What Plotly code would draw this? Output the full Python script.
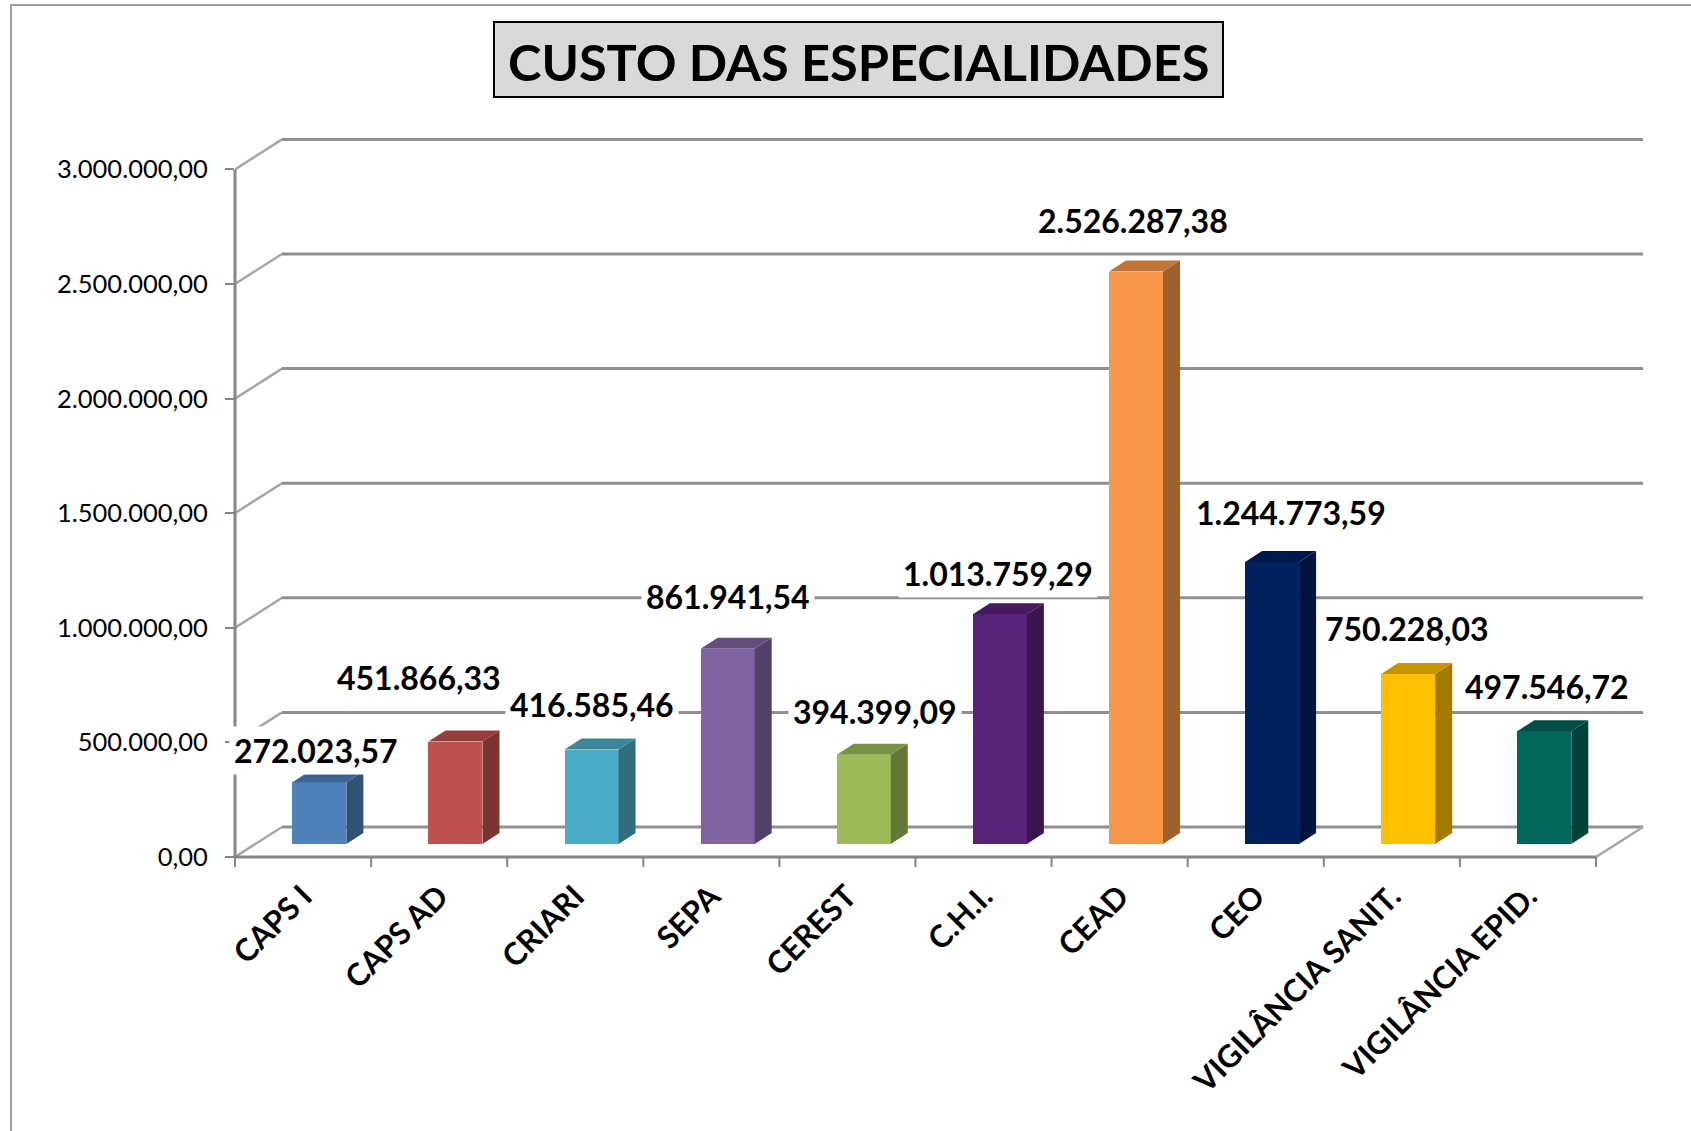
import plotly.graph_objects as go

# ---------------- data ----------------
categories = ["CAPS I", "CAPS AD", "CRIARI", "SEPA", "CEREST", "C.H.I.", "CEAD", "CEO",
              "VIGILÂNCIA SANIT.", "VIGILÂNCIA EPID."]
values = [272023.57, 451866.33, 416585.46, 861941.54, 394399.09, 1013759.29,
          2526287.38, 1244773.59, 750228.03, 497546.72]
tick_values = [0, 500000, 1000000, 1500000, 2000000, 2500000, 3000000]
bar_colors = ["#4F81BD", "#C0504D", "#4BACC6", "#8064A2", "#9BBB59", "#582379",
              "#F79646", "#002060", "#FFC000", "#00665A"]
title_text = "CUSTO DAS ESPECIALIDADES"

# label offsets (px) – styling only
label_dx = [-3, -36, 0, 0, 11, -2, -3, 19, -1, 3]
label_dy = [32, 64, 45, 52, 43, 41, 51, 49, 46, 45]


def br(v):
    s = f"{v:,.2f}"
    return s.replace(",", "_").replace(".", ",").replace("_", ".")


def shade(hexc, f):
    h = hexc.lstrip("#")
    r, g, b = (int(h[i:i + 2], 16) for i in (0, 2, 4))
    return "#%02x%02x%02x" % (int(r * f), int(g * f), int(b * f))


# ---------------- geometry ----------------
W, H = 1691, 1131
L, R, T, B = 235, 1660, 110, 857
CAT_PX = 136.1
FRONT_PX = 114.6
BAR_PX = 113.3
BAR_BASE_PX = 13
X0 = -0.5
X1 = X0 + (R - L) / CAT_PX
Y1 = (B - T) / FRONT_PX * 5e5
Y2MIN = -BAR_BASE_PX / BAR_PX * 5e5
Y2MAX = Y2MIN + (B - T) / BAR_PX * 5e5

BACK_DX = 47 / CAT_PX
BACK_DY = 30 / FRONT_PX * 5e5
BAR_SHIFT = 0.12
BAR_W = 54 / CAT_PX
SIDE_DX = 17 / CAT_PX
SIDE_DY = 11 / BAR_PX * 5e5
N = len(categories)


def xp(x):
    return (x - X0) / (X1 - X0)


def yp(v):
    return v / Y1


def pxx(px):
    return (px - L) / (R - L)


def pxy(py):
    return (B - py) / (B - T)


FONT = "Lato, 'Open Sans', sans-serif"

fig = go.Figure()

xs = [i + BAR_SHIFT for i in range(N)]
fig.add_trace(go.Bar(x=xs, y=values, width=BAR_W, yaxis="y2",
                     marker=dict(color=bar_colors, line=dict(width=0)),
                     hoverinfo="skip", showlegend=False))

for i, v in enumerate(values):
    xl = xs[i] - BAR_W / 2
    xr = xs[i] + BAR_W / 2
    side = shade(bar_colors[i], 0.64)
    top = shade(bar_colors[i], 0.78)
    fig.add_trace(go.Scatter(
        x=[xr, xr + SIDE_DX, xr + SIDE_DX, xr, xr],
        y=[0, SIDE_DY, v + SIDE_DY, v, 0], yaxis="y2",
        fill="toself", fillcolor=side, mode="lines", line=dict(width=0, color=side),
        hoverinfo="skip", showlegend=False))
    fig.add_trace(go.Scatter(
        x=[xl, xl + SIDE_DX, xr + SIDE_DX, xr, xl],
        y=[v, v + SIDE_DY, v + SIDE_DY, v, v], yaxis="y2",
        fill="toself", fillcolor=top, mode="lines", line=dict(width=0, color=top),
        hoverinfo="skip", showlegend=False))

shapes = []
# back wall gridlines + diagonals
for v in tick_values:
    shapes.append(dict(type="line", xref="x", yref="y", layer="below",
                       x0=X0, y0=v, x1=X0 + BACK_DX, y1=v + BACK_DY,
                       line=dict(color="#a6a6a6", width=2.5)))
    shapes.append(dict(type="line", xref="x", yref="y", layer="below",
                       x0=X0 + BACK_DX, y0=v + BACK_DY, x1=N - 0.5 + BACK_DX, y1=v + BACK_DY,
                       line=dict(color="#8f8f8f", width=3)))
# front axes
AX = "#868686"
shapes.append(dict(type="line", xref="paper", yref="paper", x0=0, x1=0, y0=0, y1=yp(tick_values[-1]),
                   line=dict(color=AX, width=3)))
shapes.append(dict(type="line", xref="paper", yref="paper", x0=0, x1=xp(N - 0.5), y0=0, y1=0,
                   line=dict(color=AX, width=3)))
shapes.append(dict(type="line", xref="paper", yref="paper", x0=xp(N - 0.5), x1=xp(N - 0.5 + BACK_DX),
                   y0=0, y1=yp(BACK_DY), line=dict(color="#a6a6a6", width=2.5)))
for k in range(N + 1):
    shapes.append(dict(type="line", xref="paper", yref="paper", x0=xp(-0.5 + k), x1=xp(-0.5 + k),
                       y0=0, y1=-10 / (B - T), line=dict(color=AX, width=2)))
# outer border
shapes.append(dict(type="rect", xref="paper", yref="paper", x0=pxx(11), x1=pxx(1720),
                   y0=pxy(5), y1=pxy(1160), line=dict(color="#a0a0a0", width=2)))
# title box
shapes.append(dict(type="rect", xref="paper", yref="paper", x0=pxx(494), x1=pxx(1223),
                   y0=pxy(22), y1=pxy(97), fillcolor="#d9d9d9", line=dict(color="black", width=2)))

annotations = [dict(text="<b>%s</b>" % title_text, xref="paper", yref="paper",
                    x=pxx(858.5), y=pxy(61), showarrow=False, xanchor="center", yanchor="middle",
                    font=dict(family=FONT, size=50.5, color="black"))]
for i, v in enumerate(values):
    annotations.append(dict(text="<b>%s</b>" % br(v), x=xs[i], y=v, xref="x", yref="y2",
                            xshift=label_dx[i], yshift=label_dy[i], showarrow=False,
                            xanchor="center", yanchor="middle", bgcolor="white", borderpad=4,
                            font=dict(family=FONT, size=32, color="black")))

fig.update_layout(
    width=W, height=H,
    margin=dict(l=L, r=W - R, t=T, b=H - B, pad=0),
    paper_bgcolor="white", plot_bgcolor="rgba(0,0,0,0)",
    showlegend=False, bargap=0, hovermode=False,
    xaxis=dict(range=[X0, X1], tickvals=list(range(N)), ticktext=["<b>%s</b>" % c for c in categories],
               tickangle=-45, ticks="", showline=False, showgrid=False, zeroline=False,
               ticklabelstandoff=14, tickfont=dict(family=FONT, size=31, color="black")),
    yaxis=dict(range=[0, Y1], tickvals=tick_values, ticktext=[br(v) for v in tick_values],
               ticks="outside", ticklen=9, tickwidth=2, tickcolor=AX, showline=False,
               showgrid=False, zeroline=False, ticklabelstandoff=12,
               tickfont=dict(family=FONT, size=25.5, color="black")),
    yaxis2=dict(range=[Y2MIN, Y2MAX], overlaying="y", visible=False),
    shapes=shapes, annotations=annotations,
)

fig.write_html("out.html", config={"displayModeBar": False},
               post_script="document.body.style.margin='0';document.body.style.overflow='hidden';")
